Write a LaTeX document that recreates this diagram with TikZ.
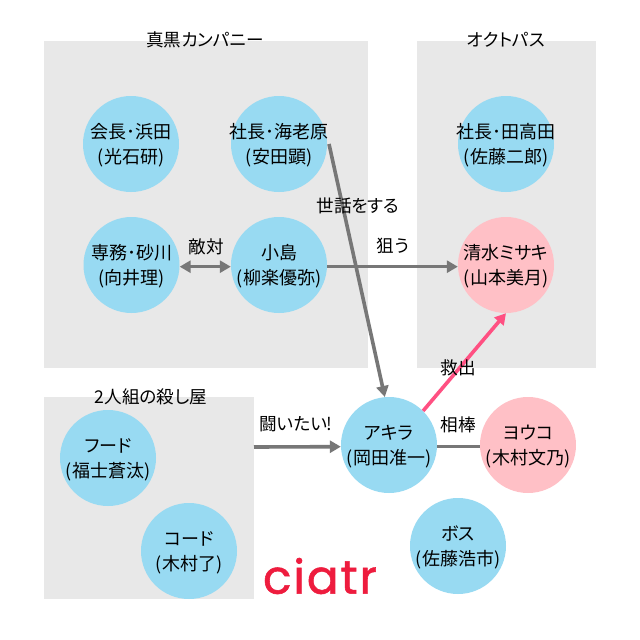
\documentclass[tikz,border=0pt]{standalone}
\usepackage{fontspec}
\setmainfont[RawFeature=+palt]{Noto Sans CJK JP}
\newfontfamily\logofont[LetterSpace=4,FakeBold=1.2]{Poppins}
\usetikzlibrary{arrows.meta}
\definecolor{panelgray}{HTML}{E8E8E8}
\definecolor{skyb}{HTML}{98DAF2}
\definecolor{pinkc}{HTML}{FFC0C6}
\definecolor{linkg}{HTML}{777777}
\definecolor{linkp}{HTML}{FF5082}
\definecolor{logor}{HTML}{EE1C3E}
\newcommand\twolines[2]{\makebox[0pt]{\raisebox{6pt}[0pt][0pt]{#1}}\makebox[0pt]{\raisebox{-19.5pt}[0pt][0pt]{#2}}}
\tikzset{
 x=1pt,y=-1pt,
 panel/.style={fill=panelgray,draw=none},
 person/.style={circle,minimum size=96pt,inner sep=0pt,font=\fontsize{18}{25.5}\selectfont,text=black},
 blue/.style={person,fill=skyb},
 rose/.style={person,fill=pinkc},
 lbl/.style={font=\fontsize{17.6}{20}\selectfont,text=black,inner sep=0pt},
 link/.style={draw=linkg,line width=3.6pt},
 tip/.style={-{Triangle[length=11pt,width=12pt]}},
 tipboth/.style={{Triangle[length=11pt,width=12pt]}-{Triangle[length=11pt,width=12pt]}},
}
\begin{document}
\begin{tikzpicture}
\useasboundingbox (0,0) rectangle (640,640);
\fill[white] (0,0) rectangle (640,640);
\fill[panel] (44,41) rectangle (368,368);
\fill[panel] (417,41) rectangle (596,368);
\fill[panel] (44,397) rectangle (254,599);
\node[lbl] (t1) at (205,40) {真黒カンパニー};
\node[lbl] (t2) at (506,40) {オクトパス};
\node[lbl] (t3) at (151,397) {2人組の殺し屋};
\node[blue] (hamada) at (131,144) {\twolines{会長･浜田}{(光石研)}};
\node[blue] (ebihara) at (279,144) {\twolines{社長･海老原}{(安田顕)}};
\node[blue] (sunakawa) at (131.5,265) {\twolines{専務･砂川}{(向井理)}};
\node[blue] (kojima) at (279,265) {\twolines{小島}{(柳楽優弥)}};
\node[blue] (tadaka) at (506,144) {\twolines{社長･田高田}{(佐藤二郎)}};
\node[rose] (misaki) at (506,265) {\twolines{清水ミサキ}{(山本美月)}};
\node[blue] (akira) at (389,445) {\twolines{アキラ}{(岡田准一)}};
\node[rose] (youko) at (528,445) {\twolines{ヨウコ}{(木村文乃)}};
\node[blue] (boss) at (458,546) {\twolines{ボス}{(佐藤浩市)}};
\node[blue] (food) at (108,458) {\twolines{フード}{(福士蒼汰)}};
\node[blue] (code) at (189,551) {\twolines{コード}{(木村了)}};
\coordinate (hit) at (254,447);
\coordinate (ebi) at (329,144);
\draw[link,tipboth] (sunakawa.358) -- (kojima.182);
\draw[link,tip] (kojima.358) -- (misaki.182);
\draw[link,tip] (ebi) -- (akira.95);
\draw[link] (akira.358) -- (youko.182);
\draw[link,tip] (hit) -- (akira.182);
\draw[draw=linkp,line width=3.6pt,tip] (akira.45) -- (misaki.south);
\node[lbl] (l1) at (206,247) {敵対};
\node[lbl] (l2) at (358,206) {世話をする};
\node[lbl] (l3) at (393,246) {狙う};
\node[lbl] (l4) at (458,368) {救出};
\node[lbl] (l5) at (296,424) {闘いたい!};
\node[lbl] (l6) at (458,425) {相棒};
\node[font=\logofont\fontsize{47}{47}\selectfont,text=logor,inner sep=0pt] (logo) at (320,576) {ciatr};
\end{tikzpicture}
\end{document}
